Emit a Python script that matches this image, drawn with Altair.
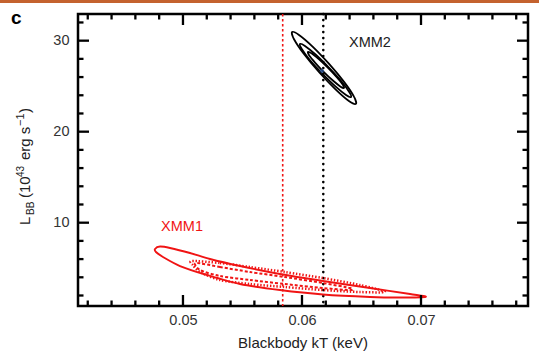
import altair as alt
import pandas as pd

# ---- axis ranges and tick positions ----
KT_DOMAIN = [0.04118, 0.07899]
L_DOMAIN = [0.846, 32.93]
kt_major = [0.05, 0.06, 0.07]
kt_minor = [0.042, 0.044, 0.046, 0.048, 0.052, 0.054, 0.056, 0.058,
            0.062, 0.064, 0.066, 0.068, 0.072, 0.074, 0.076, 0.078]
l_major = [10, 20, 30]
l_minor = [2, 4, 6, 8, 12, 14, 16, 18, 22, 24, 26, 28, 32]

# ---- best-fit temperatures (vertical reference lines) ----
kt_line_xmm1 = [0.05838]
kt_line_xmm2 = [0.06179]
xmm2_best_kt = [0.06168]
xmm2_best_L = [26.67]

# ---- XMM2 confidence contours (black) ----
xmm2_c3_kt = [0.06453, 0.06438, 0.06355, 0.06226, 0.06087, 0.05972,
              0.05917, 0.05932, 0.06015, 0.06144, 0.06284, 0.06397]
xmm2_c3_L = [23.05, 23.82, 25.44, 27.47, 29.38, 30.66,
             30.95, 30.18, 28.56, 26.53, 24.62, 23.34]
xmm2_c2_kt = [0.06412, 0.06397, 0.06329, 0.06224, 0.06114, 0.06025,
              0.05983, 0.05998, 0.06066, 0.06171, 0.06281, 0.06370]
xmm2_c2_L = [23.81, 24.37, 25.57, 27.07, 28.48, 29.42,
             29.64, 29.08, 27.88, 26.38, 24.97, 24.03]
xmm2_c1_kt = [0.06353, 0.06342, 0.06292, 0.06219, 0.06141, 0.06080,
              0.06050, 0.06061, 0.06111, 0.06184, 0.06262, 0.06324]
xmm2_c1_L = [24.80, 25.19, 25.99, 27.01, 27.97, 28.62,
             28.76, 28.37, 27.57, 26.55, 25.59, 24.95]

# ---- XMM1 confidence contours (red) ----
xmm1_c3_kt = [0.04765, 0.04807, 0.04891, 0.05059, 0.05227, 0.05479, 0.05815,
              0.06176, 0.06571, 0.06908, 0.07040, 0.06824, 0.06571, 0.06176,
              0.05815, 0.05479, 0.05202, 0.04975, 0.04832, 0.04773]
xmm1_c3_L = [7.11, 7.38, 7.22, 6.67, 6.01, 5.24, 4.36,
             3.59, 2.82, 2.16, 1.86, 1.78, 1.84, 2.11,
             2.60, 3.26, 4.25, 5.24, 6.23, 6.78]
xmm1_c2_kt = [0.05076, 0.05311, 0.05563, 0.05857, 0.06176, 0.06487, 0.06697,
              0.06487, 0.06176, 0.05857, 0.05563, 0.05311, 0.05143, 0.05084]
xmm1_c2_L = [5.79, 5.57, 5.13, 4.58, 3.92, 3.15, 2.40,
             2.38, 2.60, 2.93, 3.26, 3.70, 4.58, 5.35]
xmm1_c1_kt = [0.05109, 0.05311, 0.05563, 0.05857, 0.06176, 0.06403,
              0.06403, 0.06176, 0.05857, 0.05563, 0.05311, 0.05143]
xmm1_c1_L = [5.57, 5.13, 4.58, 4.03, 3.37, 2.82,
             2.60, 2.82, 3.26, 3.70, 4.14, 4.80]

# ---- labels ----
series_names = ["XMM1", "XMM2"]
series_label_kt = [0.04992, 0.06571]
series_label_L = [9.53, 29.75]
series_colors = ["#f01414", "#222222"]

RED = "#f01414"
FONT = "Liberation Sans"
W, H = 450, 292

xs = alt.Scale(domain=KT_DOMAIN, nice=False, zero=False)
ys = alt.Scale(domain=L_DOMAIN, nice=False, zero=False)


def contour(kt, L, color, width, dash=None, cap="butt"):
    df = pd.DataFrame({"kT": kt, "L": L, "i": range(len(kt))})
    kw = dict(color=color, strokeWidth=width, interpolate="cardinal-closed",
              tension=0.2, strokeCap=cap)
    if dash:
        kw["strokeDash"] = dash
    return alt.Chart(df).mark_line(**kw).encode(
        x=alt.X("kT:Q", scale=xs),
        y=alt.Y("L:Q", scale=ys),
        order="i:Q",
    )


# base layer carrying the axes (labels only; frame and ticks drawn below)
axis_base = alt.Chart(pd.DataFrame({"kT": kt_major, "L": l_major})).mark_point(
    opacity=0
).encode(
    x=alt.X("kT:Q", scale=xs, axis=alt.Axis(
        values=kt_major, format=".2f", title=None, ticks=False, tickSize=0,
        domain=False, grid=False, labelPadding=7, labelFont=FONT,
        labelFontSize=14.5, labelColor="#333333")),
    y=alt.Y("L:Q", scale=ys, axis=alt.Axis(
        values=l_major, format="d", title=None, ticks=False, tickSize=0,
        domain=False, grid=False, labelPadding=9, labelFont=FONT,
        labelFontSize=14.5, labelColor="#333333")),
)

vline1 = alt.Chart(pd.DataFrame({"kT": kt_line_xmm1})).mark_rule(
    color=RED, strokeWidth=1.6, strokeDash=[2.6, 2.4]
).encode(x=alt.X("kT:Q", scale=xs))

vline2 = alt.Chart(pd.DataFrame({"kT": kt_line_xmm2})).mark_rule(
    color="black", strokeWidth=2.6, strokeDash=[0.1, 5.9], strokeCap="round"
).encode(x=alt.X("kT:Q", scale=xs))

best2 = alt.Chart(pd.DataFrame({"kT": xmm2_best_kt, "L": xmm2_best_L})).mark_point(
    shape="cross", size=18, color="#2a5aa8", filled=True
).encode(x=alt.X("kT:Q", scale=xs), y=alt.Y("L:Q", scale=ys))

labels = alt.Chart(pd.DataFrame({
    "name": series_names, "kT": series_label_kt, "L": series_label_L,
    "c": series_colors})).mark_text(
    font=FONT, fontSize=14.5, align="center", baseline="middle"
).encode(
    x=alt.X("kT:Q", scale=xs), y=alt.Y("L:Q", scale=ys),
    text="name:N", color=alt.Color("c:N", scale=None),
)


# inward ticks on all four sides
def ticks_x(vals, length, top):
    df = pd.DataFrame({"kT": vals})
    if top:
        enc = dict(y=alt.value(0), y2=alt.value(length))
    else:
        enc = dict(y=alt.value(H), y2=alt.value(H - length))
    return alt.Chart(df).mark_rule(color="black", strokeWidth=2.3).encode(
        x=alt.X("kT:Q", scale=xs), **enc)


def ticks_y(vals, length, right):
    df = pd.DataFrame({"L": vals})
    if right:
        enc = dict(x=alt.value(W), x2=alt.value(W - length))
    else:
        enc = dict(x=alt.value(0), x2=alt.value(length))
    return alt.Chart(df).mark_rule(color="black", strokeWidth=2.3).encode(
        y=alt.Y("L:Q", scale=ys), **enc)


tick_layers = []
for side in (False, True):
    tick_layers += [ticks_x(kt_major, 11, side), ticks_x(kt_minor, 5.5, side),
                    ticks_y(l_major, 11, side), ticks_y(l_minor, 5.5, side)]

# axis titles and panel letter
x_title = alt.Chart(pd.DataFrame({"t": ["Blackbody kT (keV)"]})).mark_text(
    font=FONT, fontSize=15, color="#222222", align="center", baseline="middle"
).encode(text="t:N", x=alt.value(225), y=alt.value(329))

# rotated y title assembled from pieces (sub- and superscripts)
y_parts = ["L", "BB", "(10", "43", "erg s", "\u22121", ")"]
y_part_pos = [211, 201, 184, 163, 146, 112, 99]
y_part_x = [-48, -44, -48, -54, -48, -54, -48]
y_part_size = [15, 10, 15, 10, 15, 11, 15]
y_title = alt.Chart(pd.DataFrame({
    "t": y_parts, "py": y_part_pos, "px": y_part_x, "fs": y_part_size
})).mark_text(
    font=FONT, color="#222222", angle=270, align="left", baseline="alphabetic"
).encode(
    text="t:N",
    x=alt.X("px:Q", scale=None),
    y=alt.Y("py:Q", scale=None),
    size=alt.Size("fs:Q", scale=None, legend=None),
)

panel_letter = alt.Chart(pd.DataFrame({"t": ["c"]})).mark_text(
    font=FONT, fontSize=19, fontWeight="bold", color="black",
    align="left", baseline="alphabetic"
).encode(text="t:N", x=alt.value(-67), y=alt.value(10))

header_band = alt.Chart(pd.DataFrame({"a": [0]})).mark_rect(
    color="#c4622e"
).encode(x=alt.value(-78), x2=alt.value(W + 11), y=alt.value(-14), y2=alt.value(-11))

chart = alt.layer(
    axis_base,
    vline1, vline2,
    contour(xmm1_c3_kt, xmm1_c3_L, RED, 1.9),
    contour(xmm1_c2_kt, xmm1_c2_L, RED, 2.5, [1.4, 1.8]),
    contour(xmm1_c1_kt, xmm1_c1_L, RED, 2.0, [3, 2]),
    contour(xmm2_c3_kt, xmm2_c3_L, "black", 1.8),
    contour(xmm2_c2_kt, xmm2_c2_L, "black", 1.8),
    contour(xmm2_c1_kt, xmm2_c1_L, "black", 1.8),
    best2, labels,
    *tick_layers,
    x_title, y_title, panel_letter, header_band,
).properties(
    width=W, height=H,
    background="white",
    autosize=alt.AutoSizeParams(type="none"),
    padding={"left": 78, "top": 14, "right": 11, "bottom": 49},
).configure_view(
    stroke="black", strokeWidth=2.5
)

chart.save("out.html", embed_options={"renderer": "svg", "actions": False})
